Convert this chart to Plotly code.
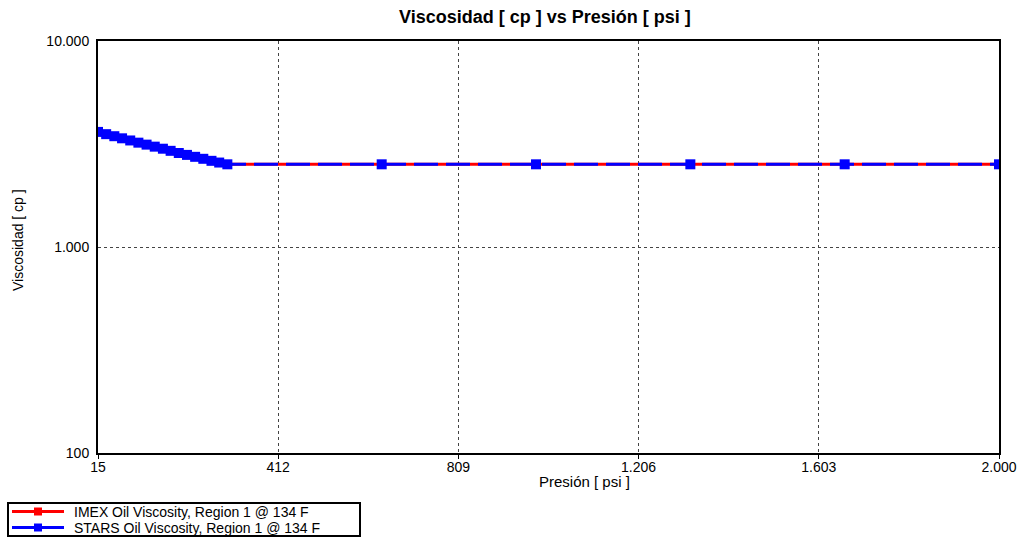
import plotly.graph_objects as go

# Presión [psi] y viscosidad [cp]
presion = [15, 33, 51, 68, 86, 104, 122, 140, 158, 175, 193, 211, 229, 247, 265, 282, 300,
           640, 980, 1320, 1660, 2000]
visc_imex = [3.62, 3.53, 3.45, 3.37, 3.29, 3.21, 3.14, 3.07, 3.00, 2.93, 2.86, 2.80, 2.74,
             2.68, 2.62, 2.57, 2.52, 2.52, 2.52, 2.52, 2.52, 2.52]
visc_stars = [3.62, 3.53, 3.45, 3.37, 3.29, 3.21, 3.14, 3.07, 3.00, 2.93, 2.86, 2.80, 2.74,
              2.68, 2.62, 2.57, 2.52, 2.52, 2.52, 2.52, 2.52, 2.52]

x_ticks = [15, 412, 809, 1206, 1603, 2000]
x_labels = ["15", "412", "809", "1.206", "1.603", "2.000"]
y_ticks = [0.1, 1, 10]
y_labels = ["100", "1.000", "10.000"]

series = [
    ("IMEX Oil Viscosity, Region 1 @ 134 F", visc_imex, "#ff0000"),
    ("STARS Oil Viscosity, Region 1 @ 134 F", visc_stars, "#0000ff"),
]

W, H = 1022, 537
L, R, T, B = 98, 23, 41, 84
PW, PH = W - L - R, H - T - B
FONT = "Arial, Liberation Sans, sans-serif"


def px(x):
    return (x - L) / PW


def py(y):
    return (H - B - y) / PH


fig = go.Figure()
fig.add_trace(go.Scatter(
    x=presion, y=visc_imex, mode="lines+markers", name=series[0][0],
    line=dict(color=series[0][2], width=3),
    marker=dict(symbol="square", size=8, color=series[0][2]),
))
fig.add_trace(go.Scatter(
    x=presion, y=visc_stars, mode="lines+markers", name=series[1][0],
    line=dict(color=series[1][2], width=3, dash="24px,8px"),
    marker=dict(symbol="square", size=10, color=series[1][2]),
))

# Leyenda dibujada a mano en el margen inferior
shapes = [dict(type="rect", xref="paper", yref="paper",
               x0=px(8), x1=px(360), y0=py(503), y1=py(536),
               line=dict(color="black", width=2), fillcolor="white", layer="above")]
annotations = []
for i, (name, _, color) in enumerate(series):
    yc = 511.5 + 16 * i
    shapes.append(dict(type="line", xref="paper", yref="paper",
                       x0=px(12), x1=px(64), y0=py(yc), y1=py(yc),
                       line=dict(color=color, width=3), layer="above"))
    shapes.append(dict(type="rect", xref="paper", yref="paper",
                       x0=px(34), x1=px(42), y0=py(yc - 4), y1=py(yc + 4),
                       line=dict(width=0), fillcolor=color, layer="above"))
    annotations.append(dict(text=name, xref="paper", yref="paper",
                            x=px(72), y=py(yc), xanchor="left", yanchor="middle",
                            showarrow=False, font=dict(size=14, color="black", family=FONT)))

annotations.append(dict(text="Presión [ psi ]", xref="paper", yref="paper",
                        x=px(584), y=py(481), xanchor="center", yanchor="middle",
                        showarrow=False, font=dict(size=15, color="black", family=FONT)))
annotations.append(dict(text="Viscosidad [ cp ]", xref="paper", yref="paper",
                        x=px(18), y=py(240), xanchor="center", yanchor="middle",
                        textangle=-90, showarrow=False,
                        font=dict(size=14, color="black", family=FONT)))

fig.update_layout(
    width=W, height=H,
    paper_bgcolor="white", plot_bgcolor="white",
    margin=dict(l=L, r=R, t=T, b=B, autoexpand=False),
    font=dict(family=FONT, size=15, color="black"),
    title=dict(text="<b>Viscosidad [ cp ] vs Presión [ psi ]</b>",
               x=px(545), xanchor="center", xref="paper",
               y=1 - 17 / H, yanchor="middle",
               font=dict(size=18, color="black")),
    showlegend=False,
    shapes=shapes,
    annotations=annotations,
)
fig.update_xaxes(
    range=[15, 2000], tickvals=x_ticks, ticktext=x_labels,
    showline=True, linecolor="black", linewidth=2, mirror=True,
    ticks="outside", ticklen=4, tickcolor="black", ticklabelstandoff=-4,
    tickfont=dict(size=14),
    showgrid=True, gridcolor="#444444", griddash="dot", gridwidth=1,
    zeroline=False, automargin=False,
)
fig.update_yaxes(
    type="log", range=[-1, 1], tickvals=y_ticks, ticktext=y_labels,
    showline=True, linecolor="black", linewidth=2, mirror=True,
    ticks="", ticklabelstandoff=4, tickfont=dict(size=14),
    showgrid=True, gridcolor="#444444", griddash="dot", gridwidth=1,
    zeroline=False, automargin=False,
)

fig.write_html("out.html")
